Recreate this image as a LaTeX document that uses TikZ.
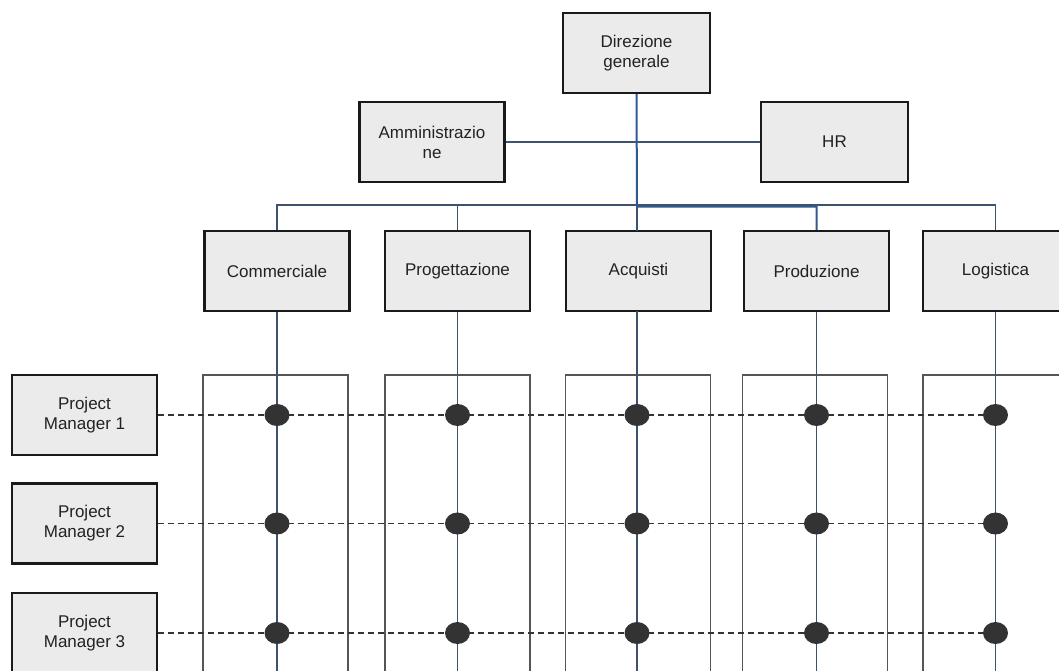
\documentclass[tikz,border=0pt]{standalone}
\usepackage{fontspec}
\setmainfont{Liberation Sans}
\usetikzlibrary{shapes.geometric}
\definecolor{boxfill}{HTML}{EBEBEB}
\definecolor{boxedge}{HTML}{1A1A1A}
\definecolor{wire}{HTML}{3E5270}
\definecolor{wireblue}{HTML}{2F5A8F}
\definecolor{colgray}{HTML}{555555}
\definecolor{dotgray}{HTML}{333333}
\definecolor{txt}{HTML}{222222}
\tikzset{
  unitbox/.style={draw=boxedge, line width=2.4pt, fill=boxfill, rectangle,
    minimum width=145pt, minimum height=80pt, inner sep=0pt, align=center,
    text=txt, font=\fontsize{17}{20}\selectfont},
  conn/.style={draw=wire, line width=1.4pt},
  connblue/.style={draw=wireblue, line width=2pt},
  colframe/.style={draw=colgray, line width=1.2pt},
  matrixline/.style={draw=dotgray, line width=1.4pt, dash pattern=on 6pt off 4pt},
  junction/.style={ellipse, fill=dotgray, draw=none, minimum width=25pt,
    minimum height=22pt, inner sep=0pt}
}
\begin{document}
\begin{tikzpicture}[x=1pt, y=-1pt]
\useasboundingbox (0,0) rectangle (1059,670);
\clip (0,0) rectangle (1059,670);
\fill[white] (0,0) rectangle (1059,670);

% project columns behind each function
\foreach \cx in {275.5, 457.5, 638, 815, 995.5}
  \draw[colframe] (\cx-72.5,375) rectangle (\cx+72.5,700);

% top management and staff units
\node[unitbox, minimum width=147pt] (dg) at (636.5,53) {Direzione\\generale};
\node[unitbox] (amm) at (432,142) {Amministrazio\\ne};
\node[unitbox, minimum width=147pt] (hr) at (834.5,142) {HR};

% functional departments
\node[unitbox] (com)  at (277,271)   {Commerciale};
\node[unitbox] (prog) at (457.5,271) {Progettazione};
\node[unitbox] (acq)  at (638.5,271) {Acquisti};
\node[unitbox] (prod) at (816.5,271) {Produzione};
\node[unitbox] (log)  at (995.5,271) {Logistica};

% project managers
\node[unitbox] (pm1) at (84.5,415)   {Project\\Manager 1};
\node[unitbox] (pm2) at (84.5,523.5) {Project\\Manager 2};
\node[unitbox] (pm3) at (84.5,633)   {Project\\Manager 3};

\coordinate (bus) at (0,205);
\coordinate (bend) at (637,206.5);
\coordinate (floor) at (0,700);

% hierarchy connectors
\draw[conn] (amm) -- (hr);
\draw[conn] (dg.south) -- (dg.south |- bus);
\draw[conn] (com.north) |- (bus -| log.north) -- (log.north);
\draw[conn] (prog.north) -- (prog.north |- bus);
\draw[conn] (637,205) -- (637,231);
\draw[connblue] (dg.south) -- (bend) -| (prod.north);

% project lines across the functions
\draw[matrixline] (pm1.east) -- (log |- pm1);
\draw[matrixline] (pm2.east) -- (log |- pm2);
\draw[matrixline] (pm3.east) -- (log |- pm3);

% functional lines down through the projects
\draw[conn] (com.south) -- (com.south |- floor);
\draw[conn] (prog.south) -- (prog.south |- floor);
\draw[conn] (637,311) -- (637,700);
\draw[conn] (prod.south) -- (prod.south |- floor);
\draw[conn] (log.south) -- (log.south |- floor);

% junctions between projects and functions
\foreach \r/\p in {1/pm1, 2/pm2, 3/pm3}{
  \node[junction] (c\r a) at (277,0 |- \p) {};
  \node[junction] (c\r b) at (457.5,0 |- \p) {};
  \node[junction] (c\r c) at (637,0 |- \p) {};
  \node[junction] (c\r d) at (816.5,0 |- \p) {};
  \node[junction] (c\r e) at (995.5,0 |- \p) {};
}
\end{tikzpicture}
\end{document}
